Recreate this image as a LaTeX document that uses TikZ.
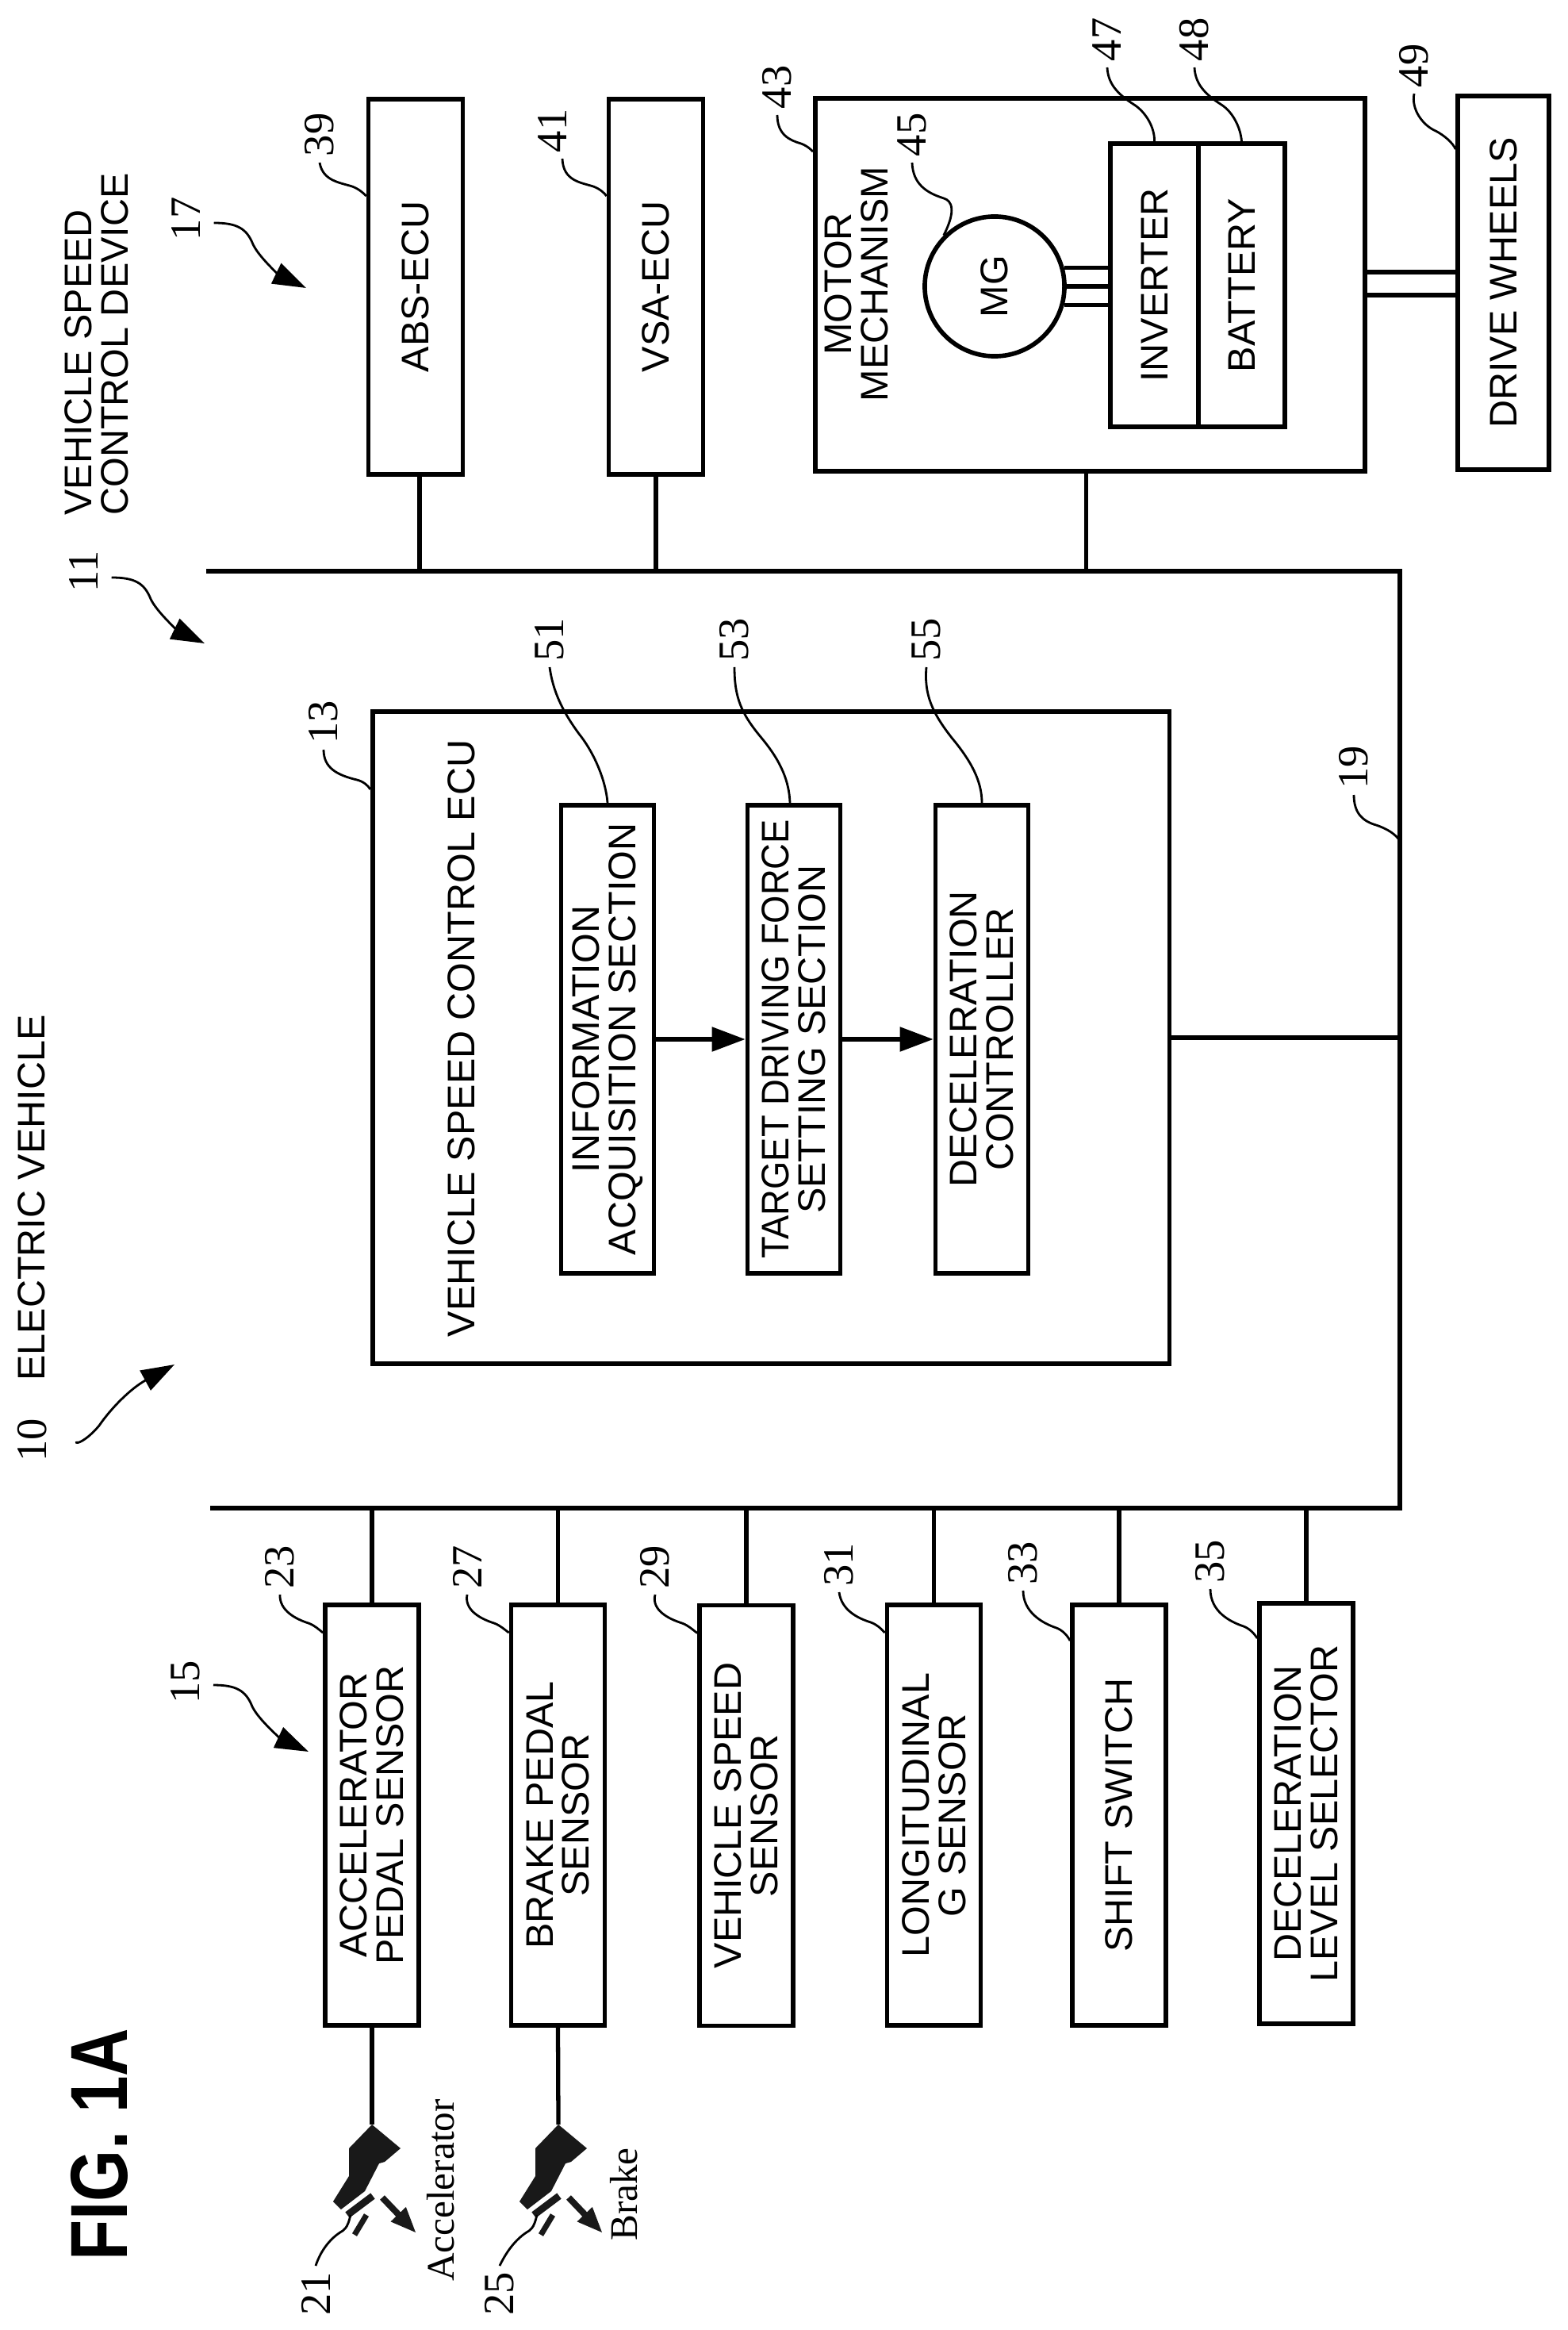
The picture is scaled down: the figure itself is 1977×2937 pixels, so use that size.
\documentclass[tikz,border=0pt]{standalone}
\usepackage{fontspec}
\setmainfont{Liberation Sans}
\newfontfamily\numfont{Liberation Serif}
\usetikzlibrary{arrows.meta}
\tikzset{
    txt/.style={rotate=90,align=center,inner sep=0pt,font=\fontsize{13.8}{13}\selectfont},
    block/.style={txt,draw,line width=1.6pt},
    sensor/.style={block,minimum width=5.30cm,minimum height=1.18cm},
    ecubox/.style={block,minimum width=4.73cm,minimum height=1.19cm},
    section/.style={block,minimum width=5.90cm,minimum height=1.17cm},
    num/.style={rotate=90,inner sep=2pt,font=\numfont\fontsize{15.5}{15.5}\selectfont},
    hand/.style={rotate=90,inner sep=0pt,font=\numfont\fontsize{14}{14}\selectfont},
    wire/.style={line width=1.5pt},
    flow/.style={wire,-{Triangle[length=.42cm,width=.30cm]}},
    lead/.style={line width=.8pt},
    callout/.style={line width=.8pt,-{Triangle[length=.42cm,width=.28cm]}},
    pedalink/.style={black!90}
}
\begin{document}
\begin{tikzpicture}[x=.01cm,y=-.01cm]
    \useasboundingbox (0,0) rectangle (1977,2937);

    \node[rotate=90,inner sep=0pt,font=\bfseries\fontsize{29}{29}\selectfont] (fig) at (125,2703) {\scalebox{.82}[1]{FIG. 1A}};
    \node[txt] (vehicle) at (40,1510) {ELECTRIC VEHICLE};
    \node[txt,align=left] (device) at (122,434) {VEHICLE SPEED\\CONTROL DEVICE};

    % bus
    \coordinate (busnw) at (260,720);
    \coordinate (busne) at (1765,720);
    \coordinate (busse) at (1765,1901);
    \coordinate (bussw) at (265,1901);
    \draw[wire] (busnw) -- (busne) -- (busse) -- (bussw);

    % top row
    \node[ecubox] (abs) at (524,361.5) {ABS-ECU};
    \node[ecubox] (vsa) at (827,361.5) {VSA-ECU};
    \node[block,minimum width=4.70cm,minimum height=6.93cm] (motor) at (1374.5,359) {};
    \node[txt] (motortxt) at (1080,358) {MOTOR\\MECHANISM};
    \node[block,circle,minimum size=1.76cm] (mg) at (1254,361) {MG};
    \node[block,minimum width=3.57cm,minimum height=1.11cm] (inverter) at (1455.5,359.5) {INVERTER};
    \node[block,minimum width=3.57cm,minimum height=1.09cm] (battery) at (1565.5,359.5) {BATTERY};
    \node[block,minimum width=4.71cm,minimum height=1.15cm] (wheels) at (1895.5,356.5) {DRIVE WHEELS};

    \draw[wire] ([xshift=.05cm]abs.west) -- ([xshift=.05cm]abs.west |- busnw);
    \draw[wire] (vsa.west) -- (vsa.west |- busnw);
    \draw[wire] ([xshift=-.05cm]motor.west) -- ([xshift=-.05cm]motor.west |- busnw);
    \draw[wire] (mg.-75) -- (mg.-75 -| inverter.north);
    \draw[wire] (mg.-90) -- (mg.-90 -| inverter.north);
    \draw[wire] (mg.-105) -- (mg.-105 -| inverter.north);
    \draw[wire] ([yshift=.16cm]motor.south) -- ([yshift=.16cm]motor.south -| wheels.north);
    \draw[wire] ([yshift=-.13cm]motor.south) -- ([yshift=-.13cm]motor.south -| wheels.north);

    % ecu
    \node[block,minimum width=8.22cm,minimum height=10.04cm] (ecu) at (972,1308) {};
    \node[txt] (ecutxt) at (582,1309) {VEHICLE SPEED CONTROL ECU};
    \node[section] (info) at (766,1310) {INFORMATION\\ACQUISITION SECTION};
    \node[section] (target) at (1001,1310) {\scalebox{.935}[1]{TARGET DRIVING FORCE}\\SETTING SECTION};
    \node[section] (decel) at (1238,1310) {DECELERATION\\CONTROLLER};
    \draw[flow] (info.south) -- (target.north);
    \draw[flow] (target.south) -- (decel.north);
    \draw[wire] (ecu.south) -- (ecu.south -| busne);

    % sensors
    \node[sensor] (accel) at (469,2288) {ACCELERATOR\\PEDAL SENSOR};
    \node[sensor] (brake) at (703.5,2288) {BRAKE PEDAL\\SENSOR};
    \node[sensor] (speed) at (941,2288.5) {VEHICLE SPEED\\SENSOR};
    \node[sensor] (long) at (1177.5,2288) {LONGITUDINAL\\G SENSOR};
    \node[sensor] (shift) at (1411,2288) {SHIFT SWITCH};
    \node[sensor] (selector) at (1647,2286) {DECELERATION\\LEVEL SELECTOR};
    \draw[wire] (accel.east) -- (accel.east |- bussw);
    \draw[wire] (brake.east) -- (brake.east |- bussw);
    \draw[wire] (speed.east) -- (speed.east |- bussw);
    \draw[wire] (long.east) -- (long.east |- bussw);
    \draw[wire] (shift.east) -- (shift.east |- bussw);
    \draw[wire] (selector.east) -- (selector.east |- bussw);

    % pedals
    \coordinate (accpedal) at (469,2678);
    \coordinate (brkpedal) at (704,2678);
    \draw[wire] (accel.west) -- (accpedal);
    \draw[wire] (brake.west) -- (brkpedal);
    \fill[pedalink] (accpedal) -- (505,2708) -- (485,2725) -- (478,2727) -- (460,2762) -- (430,2785) -- (420,2775) -- (440,2743) -- (440,2708) -- cycle;
    \draw[pedalink,line width=.09cm] (438,2792) -- (470,2768);
    \draw[pedalink,line width=.07cm] (447,2817) -- (462,2792);
    \draw[pedalink,line width=.08cm,-{Triangle[length=.33cm,width=.24cm]}] (482,2770) -- (525,2815);
    \begin{scope}[shift={(235,0)}]
        \fill[pedalink] (469,2678) -- (505,2708) -- (485,2725) -- (478,2727) -- (460,2762) -- (430,2785) -- (420,2775) -- (440,2743) -- (440,2708) -- cycle;
        \draw[pedalink,line width=.09cm] (438,2792) -- (470,2768);
        \draw[pedalink,line width=.07cm] (447,2817) -- (462,2792);
        \draw[pedalink,line width=.08cm,-{Triangle[length=.33cm,width=.24cm]}] (482,2770) -- (525,2815);
    \end{scope}
    \node[hand] (acctxt) at (556,2761) {Accelerator};
    \node[hand] (brktxt) at (787,2766) {Brake};

    % reference numbers
    \node[num] (n10) at (41,1815) {10};
    \node[num] (n11) at (106,720) {11};
    \node[num] (n13) at (408,910) {13};
    \node[num] (n15) at (234,2120) {15};
    \node[num] (n17) at (235,276) {17};
    \node[num] (n19) at (1707,967) {19};
    \node[num] (n21) at (398,2891) {21};
    \node[num] (n23) at (353,1975) {23};
    \node[num] (n25) at (630,2891) {25};
    \node[num] (n27) at (589,1975) {27};
    \node[num] (n29) at (826,1975) {29};
    \node[num] (n31) at (1058,1972) {31};
    \node[num] (n33) at (1290,1970) {33};
    \node[num] (n35) at (1526,1968) {35};
    \node[num] (n39) at (403,170) {39};
    \node[num] (n41) at (696,165) {41};
    \node[num] (n43) at (980,110) {43};
    \node[num] (n45) at (1150,170) {45};
    \node[num] (n47) at (1396,50) {47};
    \node[num] (n48) at (1506,50) {48};
    \node[num] (n49) at (1783,83) {49};
    \node[num] (n51) at (693,806) {51};
    \node[num] (n53) at (926,806) {53};
    \node[num] (n55) at (1168,806) {55};

    % callouts with arrow heads
    \draw[callout] ([shift={(29,2)}]n10.south) .. controls (95,1822) and (110,1815) .. (125,1797) .. controls (140,1775) and (165,1750) .. (220,1720);
    \draw[callout] ([shift={(9,8)}]n11.south) .. controls (170,728) and (182,735) .. (190,755) .. controls (198,772) and (225,795) .. (258,811);
    \draw[callout] ([shift={(9,4)}]n15.south) .. controls (298,2124) and (310,2131) .. (318,2151) .. controls (326,2168) and (355,2192) .. (389,2208);
    \draw[callout] ([shift={(9,5)}]n17.south) .. controls (299,281) and (311,288) .. (319,308) .. controls (327,325) and (353,347) .. (386,363);

    % leader lines
    \draw[lead] (n13.west) .. controls (408,968) and (425,977) .. (450,983) .. controls (458,985) and (464,990) .. ([yshift=-1.01cm]ecu.north east);
    \draw[lead] (n19.west) .. controls (1707,1025) and (1718,1035) .. (1735,1040) .. controls (1750,1045) and (1760,1052) .. (1765,1060);
    \draw[lead] (n21.east) .. controls (405,2835) and (418,2820) .. (432,2812) .. controls (438,2808) and (440,2800) .. (442,2792);
    \draw[lead] (n25.east) .. controls (640,2835) and (653,2820) .. (667,2812) .. controls (673,2808) and (675,2800) .. (677,2792);
    \draw[lead] (n23.west) .. controls (352,2030) and (373,2041) .. (389,2046) .. controls (397,2049) and (402,2054) .. ([yshift=-.38cm]accel.north east);
    \draw[lead] (n27.west) .. controls (585,2030) and (607,2041) .. (623,2046) .. controls (631,2049) and (636,2054) .. ([yshift=-.38cm]brake.north east);
    \draw[lead] (n29.west) .. controls (821,2030) and (844,2041) .. (860,2046) .. controls (868,2049) and (873,2054) .. ([yshift=-.38cm]speed.north east);
    \draw[lead] (n31.west) .. controls (1061,2030) and (1082,2040) .. (1098,2045) .. controls (1106,2048) and (1111,2053) .. ([yshift=-.38cm]long.north east);
    \draw[lead] (n33.west) .. controls (1290,2032) and (1314,2046) .. (1332,2052) .. controls (1340,2055) and (1346,2062) .. ([yshift=-.48cm]shift.north east);
    \draw[lead] (n35.west) .. controls (1526,2031) and (1550,2044) .. (1568,2050) .. controls (1576,2053) and (1582,2060) .. ([yshift=-.47cm]selector.north east);
    \draw[lead] (n39.west) .. controls (407,228) and (428,230) .. (444,235) .. controls (452,238) and (458,243) .. ([yshift=-1.25cm]abs.north east);
    \draw[lead] ([xshift=.13cm]n41.west) .. controls (710,228) and (732,230) .. (748,235) .. controls (756,238) and (762,243) .. ([yshift=-1.25cm]vsa.north east);
    \draw[lead] (n43.west) .. controls (980,170) and (996,177) .. (1010,181) .. controls (1018,184) and (1023,189) .. ([yshift=-.70cm]motor.north east);
    \draw[lead] (n45.west) .. controls (1151,232) and (1168,243) .. (1190,250) .. controls (1200,253) and (1206,265) .. (mg.north east);
    \draw[lead] (n47.west) .. controls (1397,105) and (1408,118) .. (1430,132) .. controls (1444,141) and (1456,160) .. (inverter.east);
    \draw[lead] (n48.west) .. controls (1507,105) and (1518,118) .. (1540,132) .. controls (1554,141) and (1564,160) .. (battery.east);
    \draw[lead] (n49.west) .. controls (1779,138) and (1794,158) .. (1810,165) .. controls (1820,170) and (1832,180) .. ([yshift=-.70cm]wheels.north east);
    \draw[lead] (n51.west) .. controls (697,870) and (708,895) .. (730,925) .. controls (750,950) and (764,985) .. (info.east);
    \draw[lead] (n53.west) .. controls (926,880) and (935,900) .. (960,930) .. controls (985,960) and (995,985) .. ([xshift=-.05cm]target.east);
    \draw[lead] (n55.west) .. controls (1165,875) and (1175,898) .. (1200,930) .. controls (1225,960) and (1238,985) .. (decel.east);
\end{tikzpicture}
\end{document}
